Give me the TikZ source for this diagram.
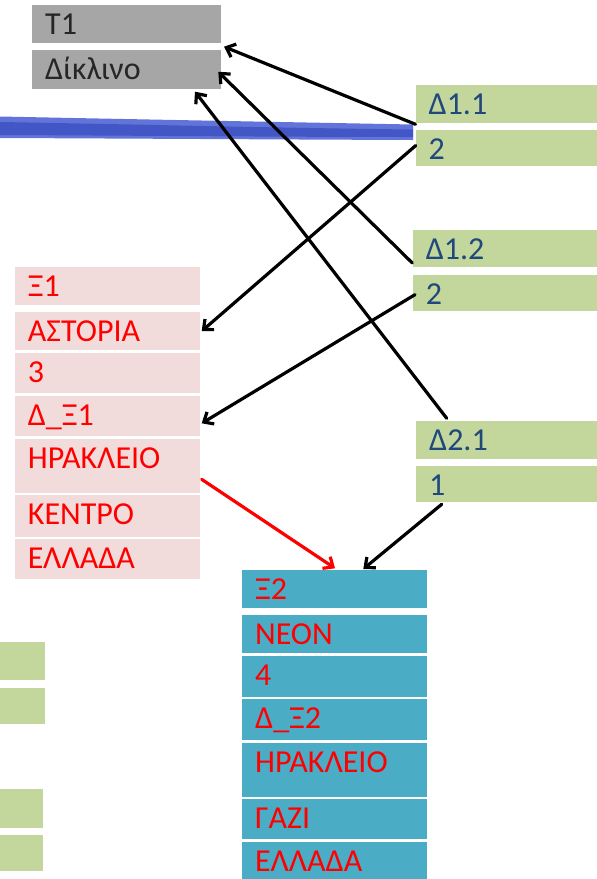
\documentclass[tikz,border=0pt]{standalone}
\usepackage{fontspec}
\setmainfont{Carlito}
\usetikzlibrary{arrows.meta,calc}
\definecolor{cgray}{HTML}{A6A6A6}
\definecolor{cpink}{HTML}{F2DCDB}
\definecolor{cgreen}{HTML}{C3D69B}
\definecolor{cteal}{HTML}{4BACC6}
\definecolor{cblue}{HTML}{1F497D}
\definecolor{cred}{HTML}{FF0000}
\definecolor{cdark}{HTML}{262626}
\definecolor{brushc}{HTML}{6274DA}
\definecolor{brushd}{HTML}{4356C6}
\newcommand\mkcell[8]{%
  \node[cell, fill=#6, minimum width=#4pt, minimum height=#5pt] (#1) at (#2,#3) {};
  \node[celltext, text=#7] (#1-t) at ([shift={(13,29.5)}]#1.north west) {#8};
}
\begin{document}
\begin{tikzpicture}[x=1pt,y=-1pt,
  cell/.style={draw=none, anchor=north west, inner sep=0pt, outer sep=0pt, rectangle},
  celltext/.style={anchor=base west, inner sep=0pt, font=\fontsize{32}{38}\selectfont},
  arr/.style={draw=black, line width=3.2pt, line cap=round, -{Straight Barb[length=8pt,width=14pt]}},
  rarr/.style={arr, draw=cred}
]
\useasboundingbox (0,0) rectangle (597,879);
% brush stroke
\fill[brushc] (0,116.5) .. controls (120,119) and (280,122) .. (413,124.5) -- (413,140)
  .. controls (280,139.5) and (120,138.5) .. (0,138) -- cycle;
\fill[brushd] (0,122) .. controls (120,124) and (280,128) .. (413,129.5) -- (413,137)
  .. controls (280,137) and (120,135.5) .. (0,135) -- cycle;
% gray
\mkcell{t1}{32}{4.7}{188.5}{38}{cgray}{cdark}{T1}
\mkcell{dik}{32}{50}{188.5}{38.5}{cgray}{cdark}{Δίκλινο}
% green right
\mkcell{d11}{415.5}{85}{181.5}{37.5}{cgreen}{cblue}{Δ1.1}
\mkcell{d11v}{415.5}{130}{181.5}{35.5}{cgreen}{cblue}{2}
\mkcell{d12}{412.7}{230}{184.3}{37}{cgreen}{cblue}{Δ1.2}
\mkcell{d12v}{412.7}{275}{184.3}{35.7}{cgreen}{cblue}{2}
\mkcell{d21}{416}{420.7}{181}{38.3}{cgreen}{cblue}{Δ2.1}
\mkcell{d21v}{416}{466}{181}{35.7}{cgreen}{cblue}{1}
% pink
\mkcell{x1}{14.7}{266.7}{185.3}{38.3}{cpink}{cred}{Ξ1}
\mkcell{ast}{14.7}{312.3}{185.3}{37.7}{cpink}{cred}{ΑΣΤΟΡΙΑ}
\mkcell{three}{14.7}{353.3}{185.3}{40}{cpink}{cred}{3}
\mkcell{dx1}{14.7}{396}{185.3}{40}{cpink}{cred}{Δ\_Ξ1}
\mkcell{her1}{14.7}{439.3}{185.3}{53.4}{cpink}{cred}{ΗΡΑΚΛΕΙΟ}
\mkcell{ken}{14.7}{495.3}{185.3}{41.4}{cpink}{cred}{ΚΕΝΤΡΟ}
\mkcell{ell1}{14.7}{539.3}{185.3}{40}{cpink}{cred}{ΕΛΛΑΔΑ}
% teal
\mkcell{x2}{242}{570}{184.7}{38.3}{cteal}{cred}{Ξ2}
\mkcell{neon}{242}{615}{184.7}{38.3}{cteal}{cred}{ΝΕΟΝ}
\mkcell{four}{242}{656}{184.7}{40.7}{cteal}{cred}{4}
\mkcell{dx2}{242}{699.3}{184.7}{40.7}{cteal}{cred}{Δ\_Ξ2}
\mkcell{her2}{242}{742.7}{184.7}{54}{cteal}{cred}{ΗΡΑΚΛΕΙΟ}
\mkcell{gazi}{242}{799}{184.7}{40.3}{cteal}{cred}{ΓΑΖΙ}
\mkcell{ell2}{242}{842.3}{184.7}{36.7}{cteal}{cred}{ΕΛΛΑΔΑ}
% left partial green boxes
\node[cell, fill=cgreen, minimum width=45pt, minimum height=38.3pt] (g1) at (0,641.7) {};
\node[cell, fill=cgreen, minimum width=45pt, minimum height=36.3pt] (g2) at (0,687.7) {};
\node[cell, fill=cgreen, minimum width=42.7pt, minimum height=38.4pt] (g3) at (0,789.3) {};
\node[cell, fill=cgreen, minimum width=42.7pt, minimum height=35.7pt] (g4) at (0,835.3) {};
% arrows
\draw[arr] ([yshift=-1.8]d11.south west) -- ([shift={(3.5,4)}]t1.south east);
\draw[arr] ([shift={(-0.4,-4)}]d12.south west) -- ([shift={(-2.2,2.5)}]dik.east);
\draw[arr] ([shift={(30.7,-2.4)}]d21.north west) -- ([shift={(-25.5,3.2)}]dik.south east);
\draw[arr] ([shift={(0.2,-2.2)}]d11v.west) -- ([xshift=1.7]ast.east);
\draw[arr] ([shift={(2.3,1.8)}]d12v.west) -- ([shift={(1.7,7.3)}]dx1.east);
\draw[arr] ([shift={(25.7,2.6)}]d21v.south west) -- ([shift={(121.3,-1)}]x2.north west);
\draw[rarr] ([shift={(1.7,-13.4)}]her1.south east) -- ([shift={(93,-1.7)}]x2.north west);
\end{tikzpicture}
\end{document}
